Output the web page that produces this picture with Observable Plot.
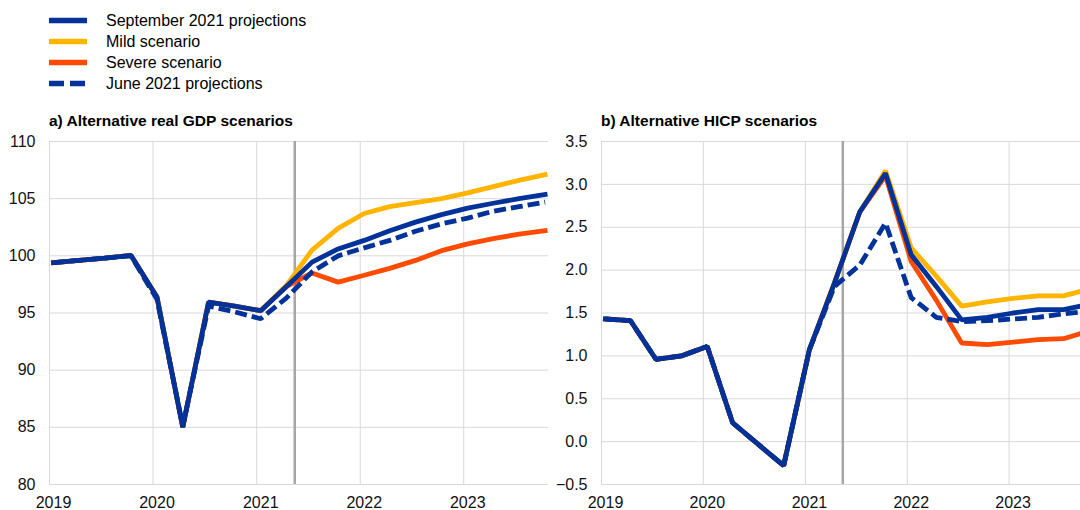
<!DOCTYPE html>
<html>
<head>
<meta charset="utf-8">
<script src="https://cdn.jsdelivr.net/npm/d3@7"></script>
<script src="https://cdn.jsdelivr.net/npm/@observablehq/plot@0.6"></script>
<style>
  html, body { margin: 0; padding: 0; background: #fff; }
  body { width: 1080px; height: 510px; overflow: hidden; position: relative;
         font-family: "Liberation Sans", Arial, Helvetica, sans-serif; color: #000; }
  #legend { position: absolute; left: 49px; top: 10px; }
  .lrow { position: absolute; left: 0; height: 21px; white-space: nowrap; font-size: 16px; }
  .lrow svg { position: absolute; left: 0; top: 0; }
  .lrow span { position: absolute; left: 57px; top: 1px; line-height: 20px; }
  .ptitle { position: absolute; top: 112px; font-size: 15.5px; font-weight: bold; white-space: nowrap; z-index: 5; }
  .panel { position: absolute; top: 100px; width: 560px; height: 410px; }
  .panel svg { max-width: none !important; }
</style>
</head>
<body>
<div id="legend"></div>
<div id="p1" class="panel" style="left:0px"></div>
<div id="p2" class="panel" style="left:550px"></div>
<div class="ptitle" style="left:49px">a) Alternative real GDP scenarios</div>
<div class="ptitle" style="left:601px">b) Alternative HICP scenarios</div>
<script>
// ---- Data ----
const quarters = ["2019Q1","2019Q2","2019Q3","2019Q4","2020Q1","2020Q2","2020Q3","2020Q4",
                  "2021Q1","2021Q2","2021Q3","2021Q4","2022Q1","2022Q2","2022Q3","2022Q4",
                  "2023Q1","2023Q2","2023Q3","2023Q4"];
const yearTicks = ["2019","2020","2021","2022","2023"];
const projectionStart = "2021-05-15";

const seriesNames = ["September 2021 projections","Mild scenario","Severe scenario","June 2021 projections"];
const seriesColors = ["#003299","#ffb400","#ff4b00","#003299"];

// a) Real GDP index
const gdpSept   = [99.4, 99.6, 99.8, 100.05, 96.4, 85.0, 95.95, 95.6, 95.2, 97.3, 99.45, 100.6, 101.35, 102.2, 102.95, 103.6, 104.17, 104.6, 105.0, 105.37];
const gdpMild   = [99.4, 99.6, 99.8, 100.05, 96.4, 85.0, 95.95, 95.6, 95.2, 97.4, 100.5, 102.4, 103.7, 104.3, 104.65, 105.0, 105.5, 106.05, 106.6, 107.1];
const gdpSevere = [99.4, 99.6, 99.8, 100.05, 96.4, 85.0, 95.95, 95.6, 95.2, 97.3, 98.5, 97.7, 98.3, 98.9, 99.6, 100.45, 101.05, 101.5, 101.9, 102.2];
const gdpJune   = [99.4, 99.6, 99.8, 100.0, 96.2, 85.1, 95.6, 95.1, 94.5, 96.3, 98.6, 100.0, 100.7, 101.35, 102.15, 102.8, 103.3, 103.9, 104.3, 104.7];
const gdpTicks  = [80, 85, 90, 95, 100, 105, 110];

// b) HICP
const hicpSept   = [1.43, 1.41, 0.96, 1.00, 1.11, 0.22, -0.03, -0.28, 1.07, 1.85, 2.68, 3.13, 2.18, 1.81, 1.42, 1.45, 1.50, 1.54, 1.54, 1.60];
const hicpMild   = [1.43, 1.41, 0.96, 1.00, 1.11, 0.22, -0.03, -0.28, 1.07, 1.85, 2.68, 3.16, 2.26, 1.93, 1.58, 1.63, 1.67, 1.70, 1.70, 1.78];
const hicpSevere = [1.43, 1.41, 0.96, 1.00, 1.11, 0.22, -0.03, -0.28, 1.07, 1.85, 2.68, 3.10, 2.10, 1.65, 1.15, 1.13, 1.16, 1.19, 1.20, 1.29];
const hicpJune   = [1.43, 1.41, 0.96, 1.00, 1.11, 0.22, -0.03, -0.28, 1.07, 1.81, 2.06, 2.55, 1.68, 1.45, 1.40, 1.41, 1.43, 1.45, 1.49, 1.52];
const hicpTicks  = [-0.5, 0, 0.5, 1, 1.5, 2, 2.5, 3, 3.5];

// ---- Helpers ----
const qDate = q => new Date(Date.UTC(+q.slice(0, 4), (+q[5] - 1) * 3, 15));
const yDate = y => new Date(Date.UTC(+y, 0, 1));
const xTicks = yearTicks.map(yDate);
const xDomain = [new Date(Date.UTC(2019, 0, 1)), new Date(Date.UTC(2023, 9, 27))];
const rows = vals => quarters.map((q, i) => ({date: qDate(q), value: vals[i]}));

// ---- Legend ----
const legend = document.getElementById("legend");
seriesNames.forEach((name, i) => {
  const row = document.createElement("div");
  row.className = "lrow";
  row.style.top = (i * 21) + "px";
  const dash = i === 3 ? ' stroke-dasharray="15,6"' : '';
  row.innerHTML = `<svg width="40" height="21"><line x1="0" x2="38" y1="10.5" y2="10.5" stroke="${seriesColors[i]}" stroke-width="5.5"${dash}/></svg><span>${name}</span>`;
  legend.appendChild(row);
});

function panel(series, yDomain, yTicks, yFormat, width, marginLeft, marginRight) {
  const [sept, mild, severe, june] = series;
  const lineOpts = (c, extra = {}) => ({x: "date", y: "value", stroke: c, strokeWidth: 4.8,
                                        strokeLinejoin: "miter", strokeLinecap: "square", ...extra});
  return Plot.plot({
    width, height: 410,
    marginTop: 41, marginBottom: 26, marginLeft, marginRight,
    style: {fontFamily: '"Liberation Sans", Arial, sans-serif', fontSize: "16px", color: "#111", background: "transparent", maxWidth: "none"},
    x: {type: "utc", domain: xDomain, label: null},
    y: {domain: yDomain, label: null},
    marks: [
      Plot.gridX(xTicks, {stroke: "#d9d9d9", strokeOpacity: 1, strokeWidth: 1}),
      Plot.gridY(yTicks, {stroke: "#d9d9d9", strokeOpacity: 1, strokeWidth: 1}),
      Plot.ruleX([new Date(projectionStart)], {stroke: "#a6a6a6", strokeWidth: 2.5}),
      Plot.line(rows(mild), lineOpts(seriesColors[1])),
      Plot.line(rows(severe), lineOpts(seriesColors[2])),
      Plot.line(rows(sept), lineOpts(seriesColors[0])),
      Plot.line(rows(june), lineOpts(seriesColors[3], {strokeDasharray: "12,5", strokeLinecap: "butt"})),
      Plot.axisX(xTicks, {tickSize: 0, tickPadding: 12, dx: 4, tickFormat: d3.utcFormat("%Y"), fontSize: 16}),
      Plot.axisY(yTicks, {tickSize: 0, tickPadding: 14, tickFormat: yFormat, fontSize: 16})
    ]
  });
}

document.getElementById("p1").appendChild(
  panel([gdpSept, gdpMild, gdpSevere, gdpJune], [80, 110], gdpTicks, d3.format("d"), 560, 49, 12));
document.getElementById("p2").appendChild(
  panel([hicpSept, hicpMild, hicpSevere, hicpJune], [-0.5, 3.5], hicpTicks, d3.format(".1f"), 560, 51, 18));
</script>
</body>
</html>
